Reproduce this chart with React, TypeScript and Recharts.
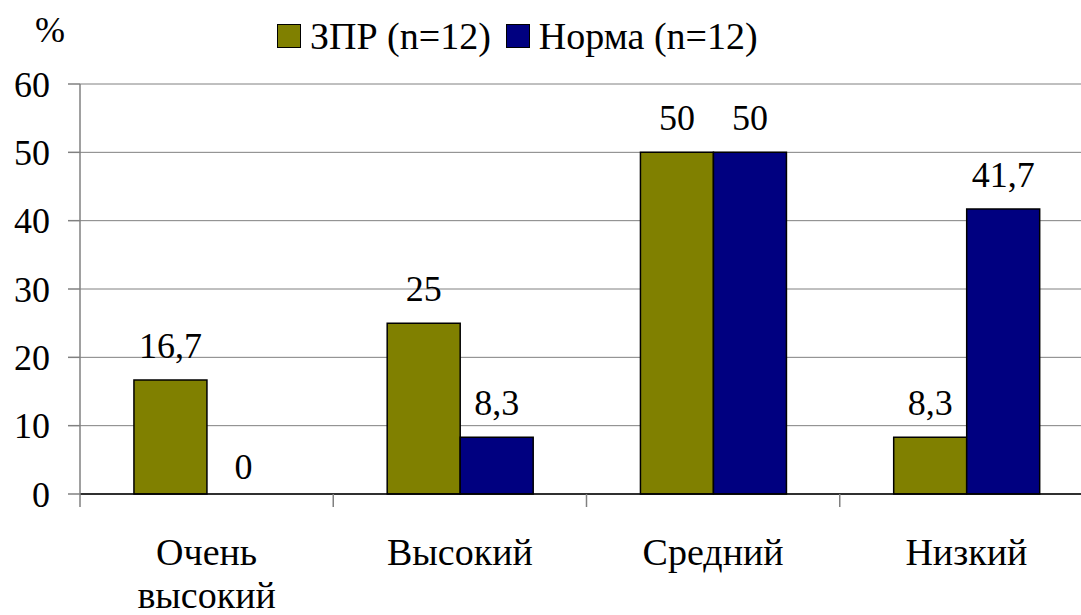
import React from "react";
import {
  Bar,
  BarChart,
  CartesianGrid,
  LabelList,
  XAxis,
  YAxis,
} from "recharts";

const categories = ["Очень высокий", "Высокий", "Средний", "Низкий"];
const zprValues = [16.7, 25, 50, 8.3];
const normValues = [0, 8.3, 50, 41.7];
const seriesNames = ["ЗПР (n=12)", "Норма (n=12)"];
const seriesColors = ["#808000", "#000080"];
const yTicks = [0, 10, 20, 30, 40, 50, 60];

const data = categories.map((name, i) => ({
  name,
  zpr: zprValues[i],
  norm: normValues[i],
}));

const FONT = '"Liberation Serif", "Times New Roman", serif';
const fmt = (v: any) => String(v).replace(".", ",");
const LABEL_OFFSET = 22;
const TICK_LEN = 13;

// category label plus tick marks at the band edges (payload.offset is half the band)
function CategoryTick(props: any) {
  const { x, y, payload, index, visibleTicksCount } = props;
  const half = payload.offset || 0;
  const words = String(payload.value).split(" ");
  const isLast = index === visibleTicksCount - 1;
  return (
    <g>
      <line x1={x - half} x2={x - half} y1={y} y2={y + TICK_LEN} stroke="#808080" strokeWidth={1.5} />
      {isLast && (
        <line x1={x + half} x2={x + half} y1={y} y2={y + TICK_LEN} stroke="#808080" strokeWidth={1.5} />
      )}
      <text x={x} y={y} textAnchor="middle" fontFamily={FONT} fontSize={38} fill="#000">
        {words.map((w, i) => (
          <tspan key={i} x={x} dy={i === 0 ? 71 : 43}>
            {w}
          </tspan>
        ))}
      </text>
    </g>
  );
}

function valueText(cx: number, baseY: number, value: any) {
  return (
    <text x={cx} y={baseY} textAnchor="middle" fontFamily={FONT} fontSize={36} fill="#000">
      {fmt(value)}
    </text>
  );
}

// label of the ЗПР bar itself
function ZprLabel(props: any) {
  const { x, y, width, value } = props;
  return valueText(x + width / 2, y - LABEL_OFFSET, value);
}

// zero-height Норма bars get no label from recharts, so draw it next to the ЗПР bar
function ZeroNormLabel(props: any) {
  const { x, y, width, height, index } = props;
  if (normValues[index] !== 0) return null;
  return valueText(x + width * 1.5, y + height - LABEL_OFFSET + 7, normValues[index]);
}

function NormLabel(props: any) {
  const { x, y, width, value } = props;
  if (value === 0) return null;
  return valueText(x + width / 2, y - LABEL_OFFSET, value);
}

export default function App() {
  return (
    <div
      style={{
        position: "fixed",
        top: 0,
        left: 0,
        width: 1081,
        height: 615,
        overflow: "hidden",
        background: "#fff",
        fontFamily: FONT,
      }}
    >
      <div style={{ position: "absolute", left: 35, top: 10, fontSize: 36, lineHeight: "40px" }}>%</div>
      <div
        style={{
          position: "absolute",
          left: 277,
          top: 17,
          display: "flex",
          alignItems: "center",
          fontSize: 38,
          lineHeight: "38px",
        }}
      >
        {seriesNames.map((n, i) => (
          <div key={n} style={{ display: "flex", alignItems: "center", marginRight: 15 }}>
            <span
              style={{
                width: 22,
                height: 22,
                border: "1px solid #000",
                background: seriesColors[i],
                marginRight: 9,
                display: "inline-block",
              }}
            />
            <span>{n}</span>
          </div>
        ))}
      </div>
      <BarChart
        width={1100}
        height={615}
        data={data}
        margin={{ top: 84, right: 7, bottom: 0, left: 0 }}
        barCategoryGap="21.3%"
        barGap={0}
        style={{ position: "absolute", top: 0, left: 0 }}
      >
        <CartesianGrid vertical={false} stroke="#808080" strokeWidth={1} />
        <XAxis
          dataKey="name"
          height={121}
          axisLine={{ stroke: "#000", strokeWidth: 1.5 }}
          tickLine={false}
          tickSize={0}
          tickMargin={0}
          interval={0}
          tick={<CategoryTick />}
        />
        <YAxis
          width={80}
          domain={[0, 60]}
          ticks={yTicks}
          interval={0}
          tickSize={12}
          tickMargin={18}
          axisLine={{ stroke: "#808080", strokeWidth: 1.5 }}
          tickLine={{ stroke: "#808080", strokeWidth: 1.5 }}
          tick={{ fontFamily: FONT, fontSize: 36, fill: "#000" }}
        />
        <Bar dataKey="zpr" name={seriesNames[0]} fill={seriesColors[0]} stroke="#000" strokeWidth={1.5} isAnimationActive={false}>
          <LabelList dataKey="zpr" content={<ZprLabel />} />
          <LabelList dataKey="zpr" content={<ZeroNormLabel />} />
        </Bar>
        <Bar dataKey="norm" name={seriesNames[1]} fill={seriesColors[1]} stroke="#000" strokeWidth={1.5} isAnimationActive={false}>
          <LabelList dataKey="norm" content={<NormLabel />} />
        </Bar>
      </BarChart>
    </div>
  );
}
